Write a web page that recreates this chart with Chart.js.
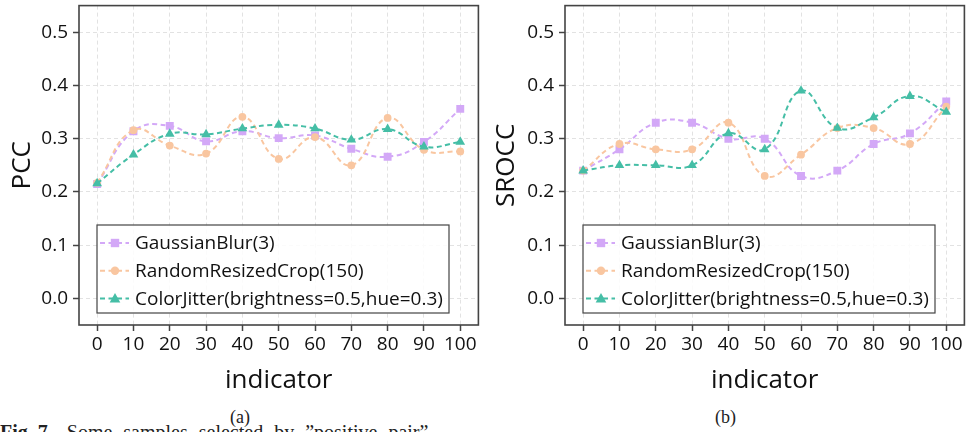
<!DOCTYPE html>
<html>
<head>
<meta charset="utf-8">
<script src="https://cdn.jsdelivr.net/npm/chart.js@4.4.0/dist/chart.umd.min.js"></script>
<style>
  html, body { margin: 0; padding: 0; background: #fff; overflow: hidden; }
  body { width: 968px; height: 432px; position: relative; }
  .panel { position: absolute; top: 0; height: 400px; }
  .sub { position: absolute; top: 407px; font: 18px "Liberation Serif", serif; color: #222; }
  .fig { position: absolute; left: 0; top: 421px; font: 20px "Liberation Serif", serif; color: #222; white-space: nowrap; }
  .fig span { word-spacing: 6px; margin-left: 14px; }
</style>
</head>
<body>
<div class="panel" style="left:0;width:484px"><canvas id="pcc"></canvas></div>
<div class="panel" style="left:484px;width:486px"><canvas id="srocc"></canvas></div>
<div class="sub" style="left:230px">(a)</div>
<div class="sub" style="left:715px">(b)</div>
<div class="fig"><b>Fig. 7.</b><span>Some samples selected by ”positive pair”</span></div>

<script>
var indicator = ['0', '10', '20', '30', '40', '50', '60', '70', '80', '90', '100'];
var yTicks = [0.0, 0.1, 0.2, 0.3, 0.4, 0.5];
var seriesNames = ['GaussianBlur(3)', 'RandomResizedCrop(150)', 'ColorJitter(brightness=0.5,hue=0.3)'];

var pccGaussian = [0.215, 0.314, 0.324, 0.295, 0.314, 0.301, 0.306, 0.281, 0.266, 0.294, 0.356];
var pccCrop     = [0.217, 0.316, 0.287, 0.272, 0.341, 0.262, 0.303, 0.250, 0.339, 0.279, 0.276];
var pccJitter   = [0.216, 0.270, 0.309, 0.308, 0.319, 0.326, 0.319, 0.298, 0.318, 0.285, 0.294];

var sroccGaussian = [0.24, 0.28, 0.33, 0.33, 0.30, 0.30, 0.23, 0.24, 0.29, 0.31, 0.37];
var sroccCrop     = [0.24, 0.29, 0.28, 0.28, 0.33, 0.23, 0.27, 0.32, 0.32, 0.29, 0.36];
var sroccJitter   = [0.24, 0.25, 0.25, 0.25, 0.31, 0.28, 0.39, 0.32, 0.34, 0.38, 0.35];

var colors = ['#d3a8f7', '#f9c6a0', '#45bea6'];
var styles = ['rect', 'circle', 'triangle'];
var radii = [5.6, 3.9, 5.6];

// small marker for the legend rows
function marker(ctx, style, x, y) {
  ctx.beginPath();
  if (style === 'rect') {
    ctx.rect(x - 4.2, y - 4.2, 8.4, 8.4);
  } else if (style === 'circle') {
    ctx.arc(x, y, 4.2, 0, Math.PI * 2);
  } else {
    ctx.moveTo(x, y - 5.5);
    ctx.lineTo(x + 5.3, y + 3.8);
    ctx.lineTo(x - 5.3, y + 3.8);
    ctx.closePath();
  }
  ctx.fill();
}

/* frame round the plot and the legend box inside it */
var framePlugin = {
  id: 'frame',
  afterDraw: function(chart) {
    var ctx = chart.ctx, a = chart.chartArea;
    ctx.save();
    var lx = a.left + 18, ly = 225, lw = 352, lh = 88;
    ctx.fillStyle = 'rgba(255,255,255,0.85)';
    ctx.fillRect(lx, ly, lw, lh);
    ctx.strokeStyle = '#444';
    ctx.lineWidth = 1.2;
    ctx.strokeRect(lx, ly, lw, lh);
    chart.data.datasets.forEach(function(ds, i) {
      var y = 243 + i * 27.8;
      ctx.strokeStyle = ds.borderColor;
      ctx.lineWidth = 2;
      ctx.setLineDash([5, 3.5]);
      ctx.beginPath();
      ctx.moveTo(lx + 3, y);
      ctx.lineTo(lx + 32, y);
      ctx.stroke();
      ctx.setLineDash([]);
      ctx.fillStyle = ds.borderColor;
      marker(ctx, ds.pointStyle, lx + 18, y);
      ctx.fillStyle = '#111';
      ctx.font = '19px "Open Sans"';
      ctx.textBaseline = 'middle';
      ctx.fillText(ds.label, lx + 38, y + 1);
    });
    ctx.strokeStyle = '#444';
    ctx.lineWidth = 1.6;
    ctx.strokeRect(a.left, a.top, a.right - a.left, a.bottom - a.top);
    ctx.restore();
  }
};

function makeChart(id, yTitle, values) {
  var datasets = values.map(function(v, i) {
    return {
      label: seriesNames[i],
      data: v,
      borderColor: colors[i],
      backgroundColor: colors[i],
      pointBackgroundColor: colors[i],
      pointBorderWidth: 0,
      pointStyle: styles[i],
      pointRadius: radii[i],
      borderWidth: 2,
      borderDash: [5, 3.5],
      tension: 0.45,
      fill: false,
      order: 2 - i
    };
  });
  return new Chart(document.getElementById(id), {
    type: 'line',
    data: { labels: indicator, datasets: datasets },
    plugins: [framePlugin],
    options: {
      responsive: true,
      maintainAspectRatio: false,
      animation: false,
      layout: { padding: 0 },
      plugins: { legend: { display: false }, tooltip: { enabled: false } },
      scales: {
        x: {
          type: 'category',
          offset: true,
          grid: { color: '#e2e2e2', lineWidth: 1, tickColor: '#444', tickLength: 6, tickWidth: 1.5, tickBorderDash: [] },
          border: { display: false, dash: [4, 3] },
          ticks: { color: '#111', font: { family: 'Open Sans', size: 19 }, padding: 2, maxRotation: 0, autoSkip: false },
          title: { display: true, text: 'indicator', color: '#111', font: { family: 'Open Sans', size: 26 }, padding: { top: 0, bottom: 4 } },
          afterFit: function(s) { s.height = 75; s.paddingLeft = 0; s.paddingRight = 0; }
        },
        y: {
          min: -0.05,
          max: 0.55,
          afterBuildTicks: function(s) { s.ticks = yTicks.map(function(v) { return { value: v }; }); },
          grid: { color: '#e2e2e2', lineWidth: 1, tickColor: '#444', tickLength: 6, tickWidth: 1.5, tickBorderDash: [] },
          border: { display: false, dash: [4, 3] },
          ticks: { color: '#111', font: { family: 'Open Sans', size: 19 }, padding: 5, callback: function(v) { return v.toFixed(1); } },
          title: { display: true, text: yTitle, color: '#111', font: { family: 'Open Sans', size: 26, lineHeight: 1 }, padding: { top: 10, bottom: 0 } },
          afterFit: function(s) { s.width = id === 'pcc' ? 79 : 81; s.paddingTop = 0; s.paddingBottom = 0; }
        }
      }
    }
  });
}

var pccChart = makeChart('pcc', 'PCC', [pccGaussian, pccCrop, pccJitter]);
var sroccChart = makeChart('srocc', 'SROCC', [sroccGaussian, sroccCrop, sroccJitter]);
</script>
</body>
</html>
